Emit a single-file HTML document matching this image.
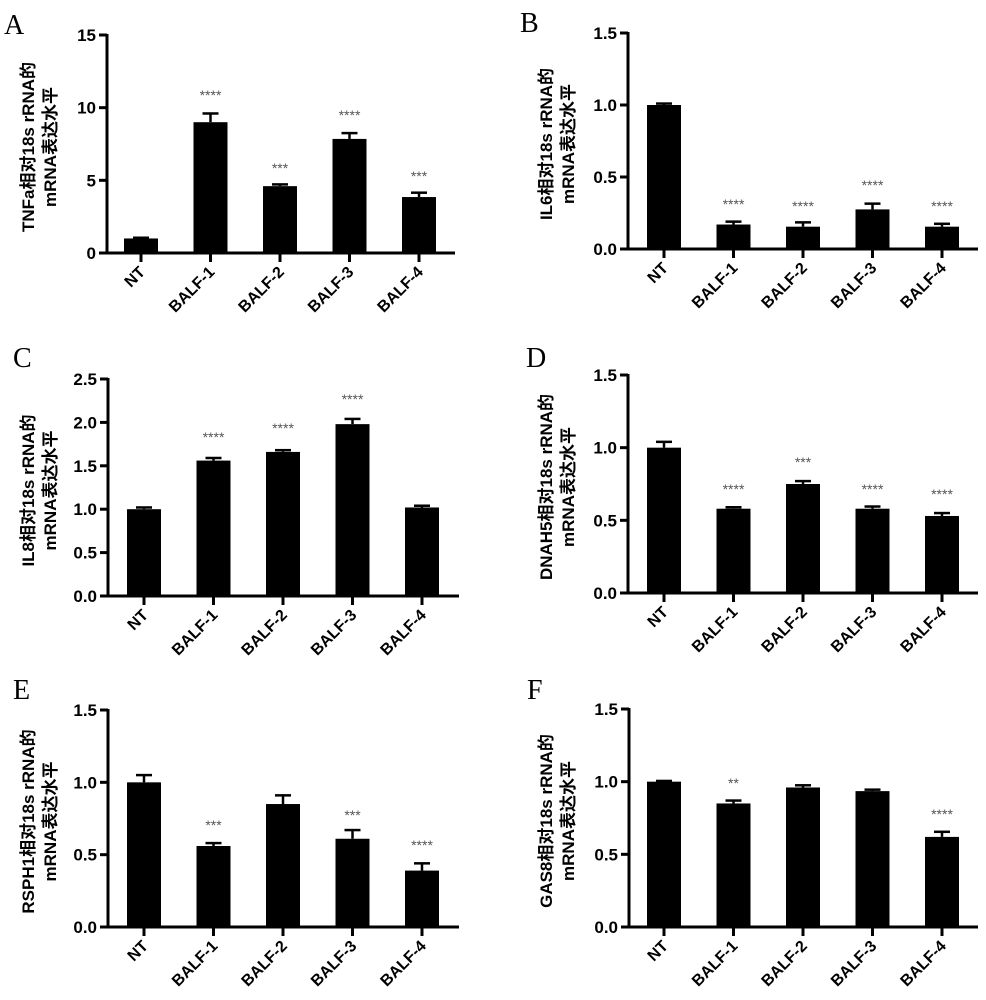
<!DOCTYPE html>
<html><head><meta charset="utf-8"><style>
body{margin:0;background:#fff}
svg{display:block}
text{font-family:"Liberation Sans","Noto Sans CJK SC",sans-serif}
text.L{font-family:"Liberation Serif",serif}
</style></head><body>
<svg id="s" width="986" height="1000" xmlns="http://www.w3.org/2000/svg"></svg>
<script>
const S=document.getElementById('s');
let h='';
const P=[
 {L:'A',lx:4,ly:34,ax:107,top:35,zero:253,xe:455,b0:124,max:15,ticks:[0,5,10,15],fmt:v=>String(v),yl:'TNFa相对18s rRNA的',ylx:28,
  d:[[1,.05],[9,.6],[4.6,.12],[7.85,.4],[3.85,.3]],st:[null,['****',93],['***',166],['****',113],['***',174]]},
 {L:'B',lx:520,ly:32,ax:628,top:33,zero:249,xe:978,b0:647,max:1.5,ticks:[0,.5,1,1.5],fmt:v=>v.toFixed(1),yl:'IL6相对18s rRNA的',ylx:546,
  d:[[1,.01],[.17,.02],[.155,.03],[.275,.04],[.155,.02]],st:[null,['****',202],['****',204],['****',183],['****',204]]},
 {L:'C',lx:13,ly:367,ax:108,top:379,zero:596,xe:459,b0:127,max:2.5,ticks:[0,.5,1,1.5,2,2.5],fmt:v=>v.toFixed(1),yl:'IL8相对18s rRNA的',ylx:28,
  d:[[1,.02],[1.56,.03],[1.66,.02],[1.98,.06],[1.02,.02]],st:[null,['****',435],['****',426],['****',397],null]},
 {L:'D',lx:526,ly:367,ax:628,top:375,zero:593,xe:978,b0:647,max:1.5,ticks:[0,.5,1,1.5],fmt:v=>v.toFixed(1),yl:'DNAH5相对18s rRNA的',ylx:546,
  d:[[1,.04],[.58,.01],[.75,.02],[.58,.015],[.53,.02]],st:[null,['****',487],['***',460],['****',487],['****',492]]},
 {L:'E',lx:13,ly:699,ax:108,top:710,zero:927,xe:459,b0:127,max:1.5,ticks:[0,.5,1,1.5],fmt:v=>v.toFixed(1),yl:'RSPH1相对18s rRNA的',ylx:28,
  d:[[1,.05],[.56,.02],[.85,.06],[.61,.06],[.39,.05]],st:[null,['***',823],null,['***',813],['****',843]]},
 {L:'F',lx:527,ly:699,ax:629,top:709,zero:927,xe:978,b0:647,max:1.5,ticks:[0,.5,1,1.5],fmt:v=>v.toFixed(1),yl:'GAS8相对18s rRNA的',ylx:546,
  d:[[1,.005],[.85,.02],[.96,.015],[.935,.01],[.62,.035]],st:[null,['**',781],null,null,['****',812]]}
];
const names=['NT','BALF-1','BALF-2','BALF-3','BALF-4'];
for(const p of P){
 const sc=v=>p.zero-(v/p.max)*(p.zero-p.top);
 h+=`<text class="L" x="${p.lx}" y="${p.ly}" font-size="28">${p.L}</text>`;
 h+=`<line x1="${p.ax}" y1="${p.top-1}" x2="${p.ax}" y2="${p.zero+1.5}" stroke="#000" stroke-width="3"/>`;
 h+=`<line x1="${p.ax-1.5}" y1="${p.zero}" x2="${p.xe}" y2="${p.zero}" stroke="#000" stroke-width="3"/>`;
 for(const t of p.ticks){const y=sc(t);
  h+=`<line x1="${p.ax-8}" y1="${y}" x2="${p.ax}" y2="${y}" stroke="#000" stroke-width="3"/>`;
  h+=`<text x="${p.ax-11}" y="${y+6}" text-anchor="end" font-size="17" font-weight="bold">${p.fmt(t)}</text>`;}
 const cy=(p.top+p.zero)/2+3;
 h+=`<text transform="translate(${p.ylx+6},${cy}) rotate(-90)" text-anchor="middle" font-size="17" font-weight="bold">${p.yl}</text>`;
 h+=`<text transform="translate(${p.ylx+28},${cy}) rotate(-90)" text-anchor="middle" font-size="17" font-weight="bold">mRNA表达水平</text>`;
 p.d.forEach((d,i)=>{
  const x=p.b0+i*69.5, w=34, c=x+w/2, y=sc(d[0]), ye=sc(d[0]+d[1]);
  h+=`<line x1="${c}" y1="${ye}" x2="${c}" y2="${y}" stroke="#000" stroke-width="2.5"/>`;
  h+=`<line x1="${c-8}" y1="${ye}" x2="${c+8}" y2="${ye}" stroke="#000" stroke-width="2.5"/>`;
  h+=`<rect x="${x}" y="${y}" width="${w}" height="${p.zero-y}" fill="#000"/>`;
  h+=`<line x1="${c}" y1="${p.zero}" x2="${c}" y2="${p.zero+9}" stroke="#000" stroke-width="3"/>`;
  h+=`<text transform="translate(${c+5},${p.zero+20}) rotate(-45)" text-anchor="end" font-size="16" font-weight="bold">${names[i]}</text>`;
  const s=p.st[i]; if(s) h+=`<text x="${c}" y="${s[1]+7}" text-anchor="middle" font-size="14" fill="#555">${s[0]}</text>`;
 });
}
S.innerHTML=h;
</script>
</body></html>
